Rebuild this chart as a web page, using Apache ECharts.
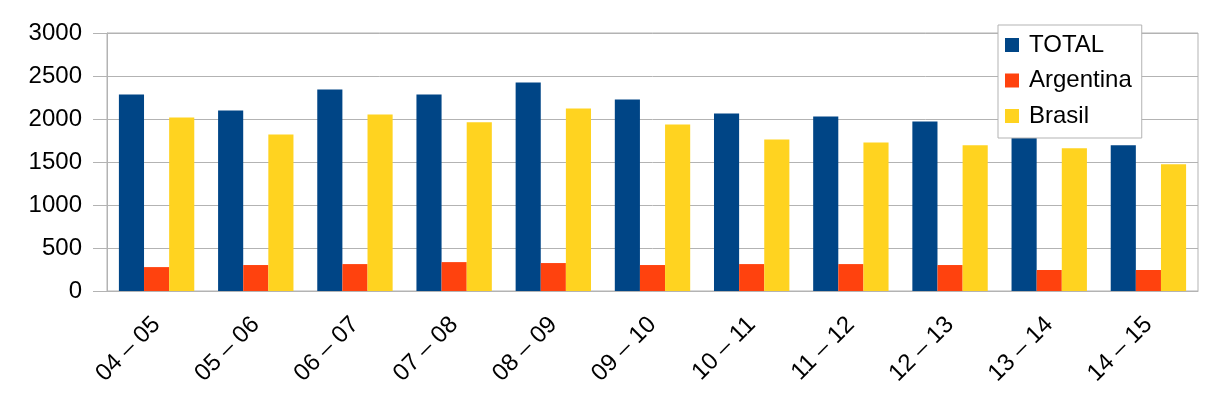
<!DOCTYPE html>
<html>
<head>
<meta charset="utf-8">
<script src="https://cdn.jsdelivr.net/npm/echarts@6/dist/echarts.min.js"></script>
<style>
html, body { margin: 0; padding: 0; background: #fff; }
#chart { width: 1211px; height: 399px; }
</style>
</head>
<body>
<div id="chart"></div>
<script>
var categories = ['04 – 05', '05 – 06', '06 – 07', '07 – 08', '08 – 09', '09 – 10', '10 – 11', '11 – 12', '12 – 13', '13 – 14', '14 – 15'];
var totalData = [2285, 2100, 2343, 2285, 2425, 2227, 2065, 2030, 1972, 1900, 1694];
var argentinaData = [278, 302, 313, 336, 325, 302, 313, 313, 302, 244, 244];
var brasilData = [2018, 1821, 2053, 1961, 2123, 1937, 1763, 1728, 1694, 1659, 1473];
var yTicks = [0, 500, 1000, 1500, 2000, 2500, 3000];

var gridColor = '#b3b3b3';
var font = 'Liberation Sans, Arial, sans-serif';

var myChart = echarts.init(document.getElementById('chart'));
var option = {
	animation: false,
	textStyle: { fontFamily: font },
	grid: {
		left: 107,
		right: 13,
		top: 33,
		bottom: 108,
		show: true,
		borderColor: gridColor,
		borderWidth: 1
	},
	legend: {
		orient: 'vertical',
		left: 998,
		top: 25,
		backgroundColor: '#fff',
		borderColor: gridColor,
		borderWidth: 1,
		padding: [8, 10, 10, 7],
		itemGap: 11.5,
		itemWidth: 14,
		itemHeight: 14,
		icon: 'rect',
		data: ['TOTAL', 'Argentina', 'Brasil'],
		textStyle: {
			fontFamily: font,
			fontSize: 24,
			color: '#000',
			padding: [0, 0, 0, 5]
		}
	},
	xAxis: {
		type: 'category',
		data: categories,
		axisLine: { lineStyle: { color: gridColor } },
		axisTick: { length: 12, lineStyle: { color: gridColor } },
		axisLabel: {
			rotate: 45,
			margin: 30,
			fontFamily: font,
			fontSize: 24,
			color: '#000'
		}
	},
	yAxis: {
		type: 'value',
		min: yTicks[0],
		max: yTicks[yTicks.length - 1],
		interval: 500,
		axisLine: { show: true, lineStyle: { color: gridColor } },
		axisTick: { show: true, length: 14, lineStyle: { color: gridColor } },
		splitLine: { lineStyle: { color: gridColor } },
		axisLabel: {
			margin: 25,
			fontFamily: font,
			fontSize: 24,
			color: '#000',
			formatter: function (v) { return String(v); }
		}
	},
	series: [
		{
			name: 'TOTAL',
			type: 'bar',
			data: totalData,
			itemStyle: { color: '#004586' },
			barGap: 0,
			barCategoryGap: '24%'
		},
		{
			name: 'Argentina',
			type: 'bar',
			data: argentinaData,
			itemStyle: { color: '#ff420e' }
		},
		{
			name: 'Brasil',
			type: 'bar',
			data: brasilData,
			itemStyle: { color: '#ffd320' }
		}
	]
};
myChart.setOption(option);
</script>
</body>
</html>
